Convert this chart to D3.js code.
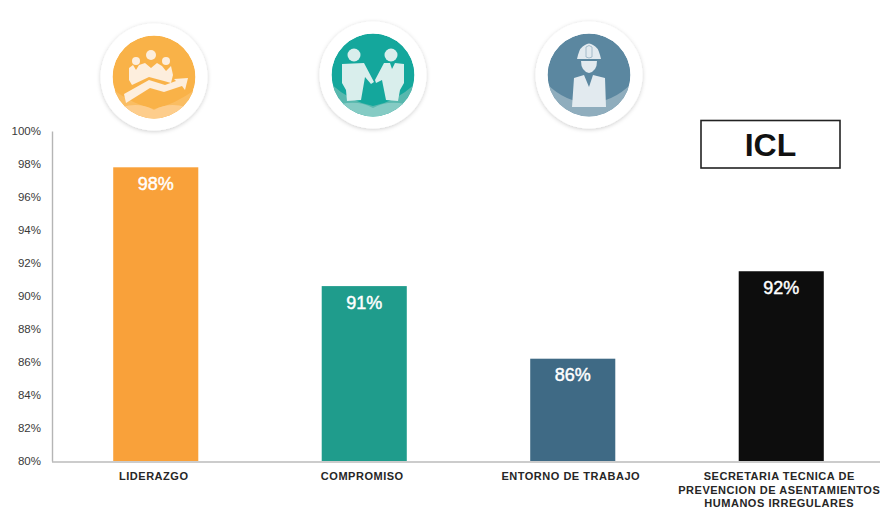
<!DOCTYPE html>
<html><head><meta charset="utf-8">
<script src="https://cdn.jsdelivr.net/npm/d3@7"></script>
<style>html,body{margin:0;padding:0;background:#fff}svg{display:block}text{font-family:"Liberation Sans",Arial,sans-serif}</style>
</head><body><svg id="c" width="880" height="509"></svg>
<script>
const categories = ["LIDERAZGO","COMPROMISO","ENTORNO DE TRABAJO","SECRETARIA TECNICA DE|PREVENCION DE ASENTAMIENTOS|HUMANOS IRREGULARES"];
const values = [97.8,90.6,86.2,91.5];
const valueLabels = ["98%","91%","86%","92%"];
const barColors = ["#f9a13a","#1f9c8c","#3f6a85","#0d0d0d"];
const tickValues = [80,82,84,86,88,90,92,94,96,98,100];

const svg = d3.select("#c");
const x = d3.scaleBand().domain(categories).range([51.5,885.5]).paddingInner(0.592).paddingOuter(0.296);
const y = d3.scaleLinear().domain([80,100]).range([461,131]);

const defs = svg.append("defs");
const f = defs.append("filter").attr("id","sh").attr("x","-30%").attr("y","-30%").attr("width","160%").attr("height","160%");
f.append("feGaussianBlur").attr("in","SourceAlpha").attr("stdDeviation",2.2).attr("result","b");
f.append("feOffset").attr("in","b").attr("dy",1).attr("result","o");
f.append("feFlood").attr("flood-color","#000").attr("flood-opacity",0.2).attr("result","c");
f.append("feComposite").attr("in","c").attr("in2","o").attr("operator","in").attr("result","s");
const m = f.append("feMerge"); m.append("feMergeNode").attr("in","s"); m.append("feMergeNode").attr("in","SourceGraphic");
defs.append("clipPath").attr("id","inner").append("circle").attr("r",41.5);
defs.append("filter").attr("id","soft").attr("x","-10%").attr("y","-10%").attr("width","120%").attr("height","120%")
  .append("feGaussianBlur").attr("stdDeviation",0.45);

const icons = [
 {c:[154,77], base:"#f9b248", light:"#fabd62", lighter:"#fdcd8c", ink:"#fdeedd", kind:"lead",
  band:"M-42,12 Q-20,28 0,32 Q20,28 42,12 V45 H-42Z", band2:"M-32,30 Q-14,25 0,33 Q14,25 32,30 V45 H-32Z"},
 {c:[373,75], base:"#14a79c", light:"#58b8ae", lighter:"#85cbc4", ink:"#d9eeec", kind:"deal",
  band:"M-42,9 Q-22,27 0,31 Q22,27 42,9 V45 H-42Z", band2:"M-32,29 Q-14,25 0,33 Q14,25 32,29 V45 H-32Z"},
 {c:[589,75], base:"#5b87a0", light:"#8fadbd", lighter:"#8fadbd", ink:"#e2eaef", kind:"work",
  band:"M-42,9 Q-24,27 0,28 Q24,27 42,9 V45 H-42Z", band2:"M0,0Z"}
];
const inks = {
 lead:["M-25,-9 L-21,-12 L-18,-7 L-15,-12 L-9,-14 L-3,-9 L3,-14 L8,-11 L12,-6 L17,-11 L19,-2 L17,6 L10,4 L-5,0 L-22,8 L-25,3 Z",
       "M-30,17 L-5,3 L11,8 L22,4 L20,2 L34,1 L31,13 L28,9 L10,15 L-4,11 L-28,26 Z"],
 deal:["M-31,-11 L-9,-12 L1,7 L-2,9 L-8,2 L-12,25 L-26,26 L-27,15 L-31,8 Z",
       "M11,-12 L17,-12 L19,-6 L22,-12 L31,-11 L31,8 L27,15 L25,26 L13,25 L9,5 L3,8 L2,5 Z"],
 work:["M-12,-16 L-11,-20 Q-9,-28 -4,-30 Q0,-33 4,-30 Q9,-28 11,-20 L12,-16 Z",
       "M-8,-14 H8 Q8,-4 0,-2 Q-8,-4 -8,-14Z",
       "M-15,3 L-5,0 L0,12 L4,0 L16,3 L17,32 H-17 Z"]
};
const heads = {lead:[[-18,-16,4],[-3,-22,5],[12,-16,4]], deal:[[-19,-20,6.5],[18,-20,6.5]], work:[]};
icons.forEach(d=>{
  const g = svg.append("g").attr("transform",`translate(${d.c})`);
  g.append("circle").attr("r",53.5).attr("fill","#fff").attr("filter","url(#sh)");
  const ig = g.append("g").attr("clip-path","url(#inner)");
  ig.append("circle").attr("r",41.5).attr("fill",d.base);
  ig.append("path").attr("d",d.band).attr("fill",d.light);
  ig.append("path").attr("d",d.band2).attr("fill",d.lighter);
  const gi = g.append("g").attr("filter","url(#soft)");
  gi.selectAll("path.ink").data(inks[d.kind]).join("path").attr("class","ink").attr("d",p=>p).attr("fill",d.ink);
  gi.selectAll("circle.h").data(heads[d.kind]).join("circle").attr("class","h").attr("cx",h=>h[0]).attr("cy",h=>h[1]).attr("r",h=>h[2]).attr("fill",d.ink);
  if(d.kind==="work"){
    gi.append("path").attr("d","M-3,-18 V-28 Q0,-31 3,-28 V-18 Q0,-16 -3,-18Z").attr("fill","none").attr("stroke","#9db7c6").attr("stroke-width",0.9);
  }
});

svg.selectAll("rect.bar").data(categories).join("rect").attr("class","bar")
 .attr("x",d=>x(d)).attr("width",x.bandwidth())
 .attr("y",(d,i)=>y(values[i])).attr("height",(d,i)=>y(80)-y(values[i]))
 .attr("fill",(d,i)=>barColors[i]);
svg.selectAll("text.v").data(categories).join("text").attr("class","v")
 .attr("x",d=>x(d)+x.bandwidth()/2).attr("y",(d,i)=>y(values[i])+22.5)
 .attr("text-anchor","middle").attr("fill","#fff").attr("font-size",18).attr("stroke","#fff").attr("stroke-width",0.45)
 .text((d,i)=>valueLabels[i]);

const ax = svg.append("g").attr("transform","translate(52,0)")
 .call(d3.axisLeft(y).tickValues(tickValues).tickSize(0).tickPadding(11).tickFormat(d=>d+"%"));
ax.select(".domain").attr("stroke","#b5b5b5").attr("stroke-width",1.4);
ax.selectAll("text").attr("font-size",11.5).attr("dy","0.34em").attr("fill","#3a3a3a").style("font-family",'"Liberation Sans",Arial,sans-serif');

const bx = svg.append("g").attr("transform","translate(0,461.5)")
 .call(d3.axisBottom(x).tickSize(0).tickFormat(""));
bx.select(".domain").attr("stroke","#9a9a9a").attr("stroke-width",1.2);
bx.selectAll(".tick text").remove();
svg.selectAll("text.cat").data(categories).join("text").attr("class","cat")
 .attr("text-anchor","middle").attr("font-size",11).attr("font-weight","bold").attr("fill","#262626")
 .attr("letter-spacing",0.52)
 .each(function(d){
   const cx = x(d)+x.bandwidth()/2;
   d3.select(this).selectAll("tspan").data(d.split("|")).join("tspan")
     .attr("x",cx-2).attr("y",(l,i)=>480+i*13.5).text(l=>l);
 });

svg.append("rect").attr("x",701).attr("y",120.5).attr("width",139).attr("height",47.5)
 .attr("fill","#fff").attr("stroke","#222").attr("stroke-width",1.6);
svg.append("text").attr("x",770.5).attr("y",156).attr("text-anchor","middle")
 .attr("font-size",32).attr("font-weight","bold").attr("fill","#111").text("ICL");
</script></body></html>
